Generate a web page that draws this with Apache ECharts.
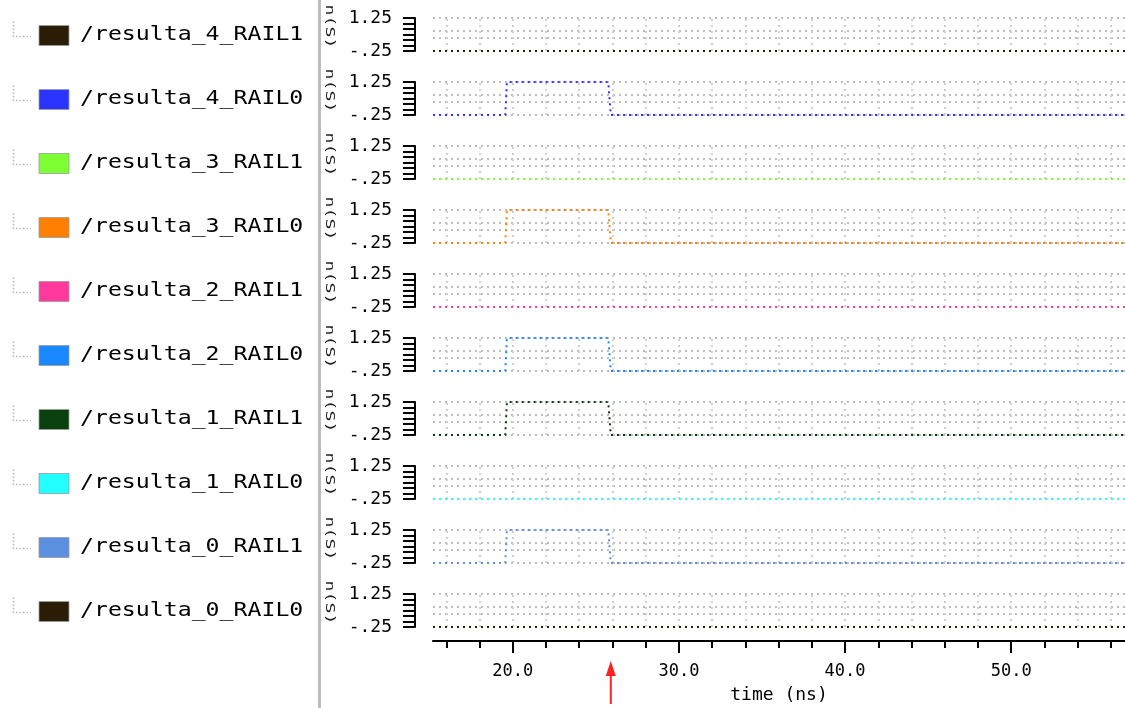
<!DOCTYPE html>
<html><head><meta charset="utf-8">
<script src="https://cdn.jsdelivr.net/npm/echarts@6/dist/echarts.min.js"></script>
<style>html,body{margin:0;padding:0;background:#fff}#c{width:1125px;height:708px}</style>
</head><body><div id="c"></div>
<script>
// ---- data ----
const signalNames = ['/resulta_4_RAIL1','/resulta_4_RAIL0','/resulta_3_RAIL1','/resulta_3_RAIL0','/resulta_2_RAIL1',
  '/resulta_2_RAIL0','/resulta_1_RAIL1','/resulta_1_RAIL0','/resulta_0_RAIL1','/resulta_0_RAIL0'];
const timePoints = [15.2, 19.55, 19.65, 25.75, 25.9, 56.85];
const resulta_4_RAIL1 = [-0.25, -0.25, -0.25, -0.25, -0.25, -0.25];
const resulta_4_RAIL0 = [-0.25, -0.25, 1.25, 1.25, -0.25, -0.25];
const resulta_3_RAIL1 = [-0.25, -0.25, -0.25, -0.25, -0.25, -0.25];
const resulta_3_RAIL0 = [-0.25, -0.25, 1.25, 1.25, -0.25, -0.25];
const resulta_2_RAIL1 = [-0.25, -0.25, -0.25, -0.25, -0.25, -0.25];
const resulta_2_RAIL0 = [-0.25, -0.25, 1.25, 1.25, -0.25, -0.25];
const resulta_1_RAIL1 = [-0.25, -0.25, 1.25, 1.25, -0.25, -0.25];
const resulta_1_RAIL0 = [-0.25, -0.25, -0.25, -0.25, -0.25, -0.25];
const resulta_0_RAIL1 = [-0.25, -0.25, 1.25, 1.25, -0.25, -0.25];
const resulta_0_RAIL0 = [-0.25, -0.25, -0.25, -0.25, -0.25, -0.25];
const signalValues = [resulta_4_RAIL1, resulta_4_RAIL0, resulta_3_RAIL1, resulta_3_RAIL0, resulta_2_RAIL1,
  resulta_2_RAIL0, resulta_1_RAIL1, resulta_1_RAIL0, resulta_0_RAIL1, resulta_0_RAIL0];
const signalColors = ['#2b1c06','#2b33ff','#7dff33','#ff8000','#ff3a9c','#1a88ff','#08400e','#22ffff','#5b8fe0','#2b1c06'];
const timeRange = [15.2, 56.85];
const yRange = [-0.25, 1.25];
const yTickInterval = 0.25;
const yLabelTexts = {'1.25': '1.25', '-0.25': '-.25'};
const xMajorTicks = [20, 30, 40, 50];
const xMinorTicks = [16, 18, 20, 22, 24, 26, 28, 30, 32, 34, 36, 38, 40, 42, 44, 46, 48, 50, 52, 54, 56];
const gridLevels = [1.25, 0.67, 0.34, -0.25];
const cursorTime = 25.9;
const xAxisTitle = 'time (ns)';

// ---- layout ----
const ROW_TOP0 = 18, ROW_STEP = 64, ROW_H = 33, PLOT_LEFT = 433;
const MONO = "'DejaVu Sans Mono', 'Liberation Mono', monospace";
const n = signalNames.length;

const grids = [], xAxes = [], yAxes = [], series = [];
const hStyle = {color: '#bdbdbd', width: 2, type: [2, 4]};
const vStyle = {color: '#d0d0d0', width: 2, type: [2, 4]};

for (let i = 0; i < n; i++) {
  const top = ROW_TOP0 + ROW_STEP * i;
  grids.push({left: PLOT_LEFT, right: 0, top: top, height: ROW_H, containLabel: false});
  const last = i === n - 1;
  xAxes.push({
    type: 'value', gridIndex: i, min: timeRange[0], max: timeRange[1], show: last,
    position: 'bottom', offset: last ? 14 : 0,
    axisLine: {show: true, onZero: false, lineStyle: {color: '#000', width: 2}},
    axisTick: {show: true, customValues: xMinorTicks, length: 7, lineStyle: {color: '#000', width: 2}},
    axisLabel: {show: true, customValues: xMajorTicks, formatter: v => v.toFixed(1), color: '#000',
      fontFamily: MONO, fontSize: 17, margin: 22},
    splitLine: {show: false},
    name: last ? xAxisTitle : '', nameLocation: 'middle', nameGap: 45,
    nameTextStyle: {color: '#000', fontFamily: MONO, fontSize: 18}
  });
  yAxes.push({
    type: 'value', gridIndex: i, min: yRange[0], max: yRange[1], interval: yTickInterval,
    position: 'left', offset: 18,
    axisLine: {show: true, onZero: false, lineStyle: {color: '#000', width: 2}},
    axisTick: {show: true, length: 12, lineStyle: {color: '#000', width: 2}},
    axisLabel: {show: true, margin: 23, color: '#000', fontFamily: MONO, fontSize: 18,
      formatter: v => { const k = String(Math.round(v * 100) / 100); return yLabelTexts[k] || ''; }},
    splitLine: {show: false}
  });
  // background dotted grid via markLines
  series.push({
    type: 'line', xAxisIndex: i, yAxisIndex: i, data: [[timeRange[0], yRange[0]]],
    symbol: 'none', lineStyle: {opacity: 0}, silent: true, z: 1, animation: false,
    markLine: {
      z: 1, silent: true, symbol: ['none', 'none'], label: {show: false}, animation: false,
      data: gridLevels.map(v => ({yAxis: v, lineStyle: hStyle}))
        .concat(xMinorTicks.map(t => ({xAxis: t, lineStyle: vStyle})))
    }
  });
  series.push({
    type: 'line', name: signalNames[i], xAxisIndex: i, yAxisIndex: i,
    data: timePoints.map((t, k) => [t, signalValues[i][k]]),
    symbol: 'none', showSymbol: false, clip: false, z: 6, animation: false,
    lineStyle: {color: signalColors[i], width: 2, type: [2, 4]}
  });
}
// major ticks on the bottom axis
xAxes.push({
  type: 'value', gridIndex: n - 1, min: timeRange[0], max: timeRange[1], position: 'bottom', offset: 14,
  axisLine: {show: false, onZero: false},
  axisTick: {show: true, customValues: xMajorTicks, length: 12, lineStyle: {color: '#000', width: 2}},
  axisLabel: {show: false}, splitLine: {show: false}
});

function legendGraphics() {
  const g = [];
  g.push({type: 'rect', shape: {x: 318, y: 0, width: 3, height: 708}, style: {fill: '#bdbdbd'}, silent: true});
  for (let i = 0; i < n; i++) {
    const cy = ROW_TOP0 + ROW_STEP * i + ROW_H / 2 + 1;
    g.push({type: 'polyline', shape: {points: [[13.5, cy - 14], [13.5, cy + 1], [31, cy + 1]]},
      style: {stroke: '#b8b8b8', lineWidth: 1.5, lineDash: [1.5, 2], fill: null}, silent: true});
    g.push({type: 'rect', shape: {x: 39, y: cy - 10, width: 30, height: 20},
      style: {fill: signalColors[i], stroke: '#9a9a9a', lineWidth: 0.8}, silent: true});
    g.push({type: 'text', x: 80, y: cy, scaleX: 1.22,
      style: {text: signalNames[i], font: "19px " + MONO, fill: '#000', verticalAlign: 'middle', textAlign: 'left'}, silent: true});
    g.push({type: 'text', x: 329, y: cy - 9, rotation: -Math.PI / 2, scaleX: 1.4,
      style: {text: 'n(S)', font: "13px " + MONO, fill: '#222', verticalAlign: 'middle', textAlign: 'center'}, silent: true});
  }
  return g;
}

const chart = echarts.init(document.getElementById('c'), null, {renderer: 'canvas'});
chart.setOption({
  animation: false,
  backgroundColor: '#fff',
  grid: grids, xAxis: xAxes, yAxis: yAxes, series: series,
  graphic: legendGraphics()
});
const ax = chart.convertToPixel({xAxisIndex: n - 1}, cursorTime);
const g2 = legendGraphics();
g2.push({type: 'line', shape: {x1: ax, y1: 672, x2: ax, y2: 704}, style: {stroke: '#ff2020', lineWidth: 2}, silent: true});
g2.push({type: 'polygon', shape: {points: [[ax, 661], [ax - 5, 676], [ax + 5, 676]]}, style: {fill: '#ff2020'}, silent: true});
chart.setOption({graphic: g2});
</script></body></html>
